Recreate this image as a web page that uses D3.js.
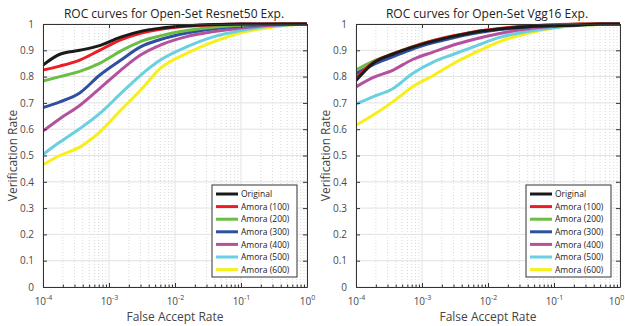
<!DOCTYPE html>
<html><head><meta charset="utf-8">
<script src="https://cdn.jsdelivr.net/npm/d3@7"></script>
<style>body{margin:0;background:#fff}svg{display:block}</style>
</head><body>
<svg id="c" width="625" height="326"></svg>
<script>
// ---- data ----
const far = [1e-4, 1.8e-4, 3.6e-4, 7.2e-4, 1.5e-3, 3e-3, 6e-3, 1.5e-2, 3.9e-2, 0.1, 0.25, 0.5, 1];
const seriesNames = ["Original", "Amora (100)", "Amora (200)", "Amora (300)", "Amora (400)", "Amora (500)", "Amora (600)"];
const seriesColors = ["#1a1a1a", "#ed1c24", "#6abd45", "#2f4f9f", "#b4519f", "#6acfe0", "#f7ee1a"];
const titles = ["ROC curves for Open-Set Resnet50 Exp.", "ROC curves for Open-Set Vgg16 Exp."];
const xLabel = "False Accept Rate";
const yLabel = "Verification Rate";
const xTicks = [1e-4, 1e-3, 1e-2, 1e-1, 1];
const yTicks = [0, 0.1, 0.2, 0.3, 0.4, 0.5, 0.6, 0.7, 0.8, 0.9, 1];

const resnetOriginal = [0.844, 0.885, 0.900, 0.918, 0.950, 0.972, 0.984, 0.993, 0.998, 1, 1, 1, 1];
const resnetAmora100 = [0.825, 0.840, 0.863, 0.900, 0.940, 0.965, 0.980, 0.991, 0.997, 1, 1, 1, 1];
const resnetAmora200 = [0.783, 0.800, 0.820, 0.850, 0.897, 0.933, 0.955, 0.975, 0.988, 0.995, 0.999, 1, 1];
const resnetAmora300 = [0.682, 0.704, 0.738, 0.805, 0.862, 0.913, 0.941, 0.966, 0.982, 0.992, 0.998, 1, 1];
const resnetAmora400 = [0.593, 0.640, 0.690, 0.754, 0.824, 0.882, 0.920, 0.952, 0.971, 0.985, 0.994, 0.998, 1];
const resnetAmora500 = [0.504, 0.551, 0.602, 0.659, 0.735, 0.805, 0.863, 0.913, 0.952, 0.975, 0.990, 0.996, 1];
const resnetAmora600 = [0.465, 0.500, 0.532, 0.589, 0.672, 0.748, 0.831, 0.888, 0.933, 0.967, 0.985, 0.995, 1];

const vggOriginal = [0.785, 0.850, 0.885, 0.912, 0.935, 0.953, 0.968, 0.981, 0.990, 0.993, 0.996, 1, 1];
const vggAmora100 = [0.795, 0.853, 0.886, 0.913, 0.937, 0.955, 0.970, 0.983, 0.992, 0.997, 1, 1, 1];
const vggAmora200 = [0.825, 0.858, 0.887, 0.914, 0.937, 0.954, 0.969, 0.982, 0.991, 0.996, 1, 1, 1];
const vggAmora300 = [0.812, 0.845, 0.875, 0.905, 0.929, 0.948, 0.964, 0.979, 0.989, 0.995, 0.999, 1, 1];
const vggAmora400 = [0.761, 0.796, 0.824, 0.865, 0.894, 0.920, 0.941, 0.964, 0.981, 0.991, 0.997, 1, 1];
const vggAmora500 = [0.695, 0.723, 0.754, 0.812, 0.856, 0.885, 0.913, 0.949, 0.971, 0.986, 0.995, 0.999, 1];
const vggAmora600 = [0.615, 0.653, 0.704, 0.761, 0.805, 0.850, 0.888, 0.933, 0.964, 0.985, 0.995, 0.998, 1];

const panels = [
  [resnetOriginal, resnetAmora100, resnetAmora200, resnetAmora300, resnetAmora400, resnetAmora500, resnetAmora600],
  [vggOriginal, vggAmora100, vggAmora200, vggAmora300, vggAmora400, vggAmora500, vggAmora600]
];

// ---- layout ----
const font = "'Open Sans', 'Noto Sans', sans-serif";
const svg = d3.select("#c");
const frames = [{x0: 43, x1: 307}, {x0: 356, x1: 620}];
const yTop = 24, yBot = 287;

const minorTicks = [];
for (let e = -4; e < 0; e++) for (let m = 2; m <= 9; m++) minorTicks.push(m * Math.pow(10, e));

panels.forEach((data, pi) => {
  const f = frames[pi];
  const x = d3.scaleLog().domain([1e-4, 1]).range([f.x0, f.x1]);
  const y = d3.scaleLinear().domain([0, 1]).range([yBot, yTop]);
  const g = svg.append("g");

  // grid
  g.append("g").selectAll("line").data(minorTicks).join("line")
    .attr("x1", d => x(d)).attr("x2", d => x(d)).attr("y1", yTop).attr("y2", yBot)
    .attr("stroke", "#cfcfcf").attr("stroke-width", 0.8).attr("stroke-dasharray", "1,2");
  g.append("g").selectAll("line").data(xTicks).join("line")
    .attr("x1", d => x(d)).attr("x2", d => x(d)).attr("y1", yTop).attr("y2", yBot)
    .attr("stroke", "#e2e2e2").attr("stroke-width", 1);
  g.append("g").selectAll("line").data(yTicks).join("line")
    .attr("x1", f.x0).attr("x2", f.x1).attr("y1", d => y(d)).attr("y2", d => y(d))
    .attr("stroke", "#e2e2e2").attr("stroke-width", 1);

  // curves
  const line = d3.line().x((d, i) => x(far[i])).y(d => y(d)).curve(d3.curveMonotoneX);
  const clipId = "clip" + pi;
  svg.append("clipPath").attr("id", clipId).append("rect")
    .attr("x", f.x0).attr("y", yTop - 2).attr("width", f.x1 - f.x0).attr("height", yBot - yTop + 2);
  g.append("g").attr("clip-path", `url(#${clipId})`).selectAll("path").data(data.slice().reverse()).join("path")
    .attr("d", d => line(d)).attr("fill", "none")
    .attr("stroke", (d, i) => seriesColors[data.length - 1 - i]).attr("stroke-width", 3)
    .attr("stroke-linejoin", "round");

  // axes
  const ax = d3.axisBottom(x).tickValues(xTicks).tickSizeInner(-4).tickSizeOuter(0).tickPadding(10).tickFormat(() => "");
  const axG = g.append("g").attr("transform", `translate(0,${yBot})`).call(ax);
  axG.select(".domain").attr("stroke", "#333");
  axG.selectAll(".tick line").attr("stroke", "#333");
  axG.selectAll(".tick text").remove();
  axG.selectAll(".tick").append("text")
    .attr("y", 18).attr("x", d => (pi === 1 && d === 1) ? -4 : 0)
    .attr("fill", "#4a4a4a").attr("font-family", font).attr("font-size", 10).attr("text-anchor", "middle")
    .each(function(d) {
      const t = d3.select(this);
      t.append("tspan").text("10");
      t.append("tspan").attr("dy", -5).attr("font-size", 7).text(String(Math.round(Math.log10(d))));
    });
  const axMinor = d3.axisBottom(x).tickValues(minorTicks).tickSizeInner(-2.5).tickSizeOuter(0).tickFormat(() => "");
  const mG = g.append("g").attr("transform", `translate(0,${yBot})`).call(axMinor);
  mG.select(".domain").remove();
  mG.selectAll(".tick line").attr("stroke", "#333");
  const axTop = d3.axisTop(x).tickValues(xTicks).tickSizeInner(-4).tickSizeOuter(0).tickFormat(() => "");
  const tG = g.append("g").attr("transform", `translate(0,${yTop})`).call(axTop);
  tG.select(".domain").attr("stroke", "#333");
  tG.selectAll(".tick line").attr("stroke", "#333");

  const ay = d3.axisLeft(y).tickValues(yTicks).tickSizeInner(-4).tickSizeOuter(0).tickPadding(9).tickFormat(d => String(d));
  const ayG = g.append("g").attr("transform", `translate(${f.x0},0)`).call(ay);
  ayG.select(".domain").attr("stroke", "#333");
  ayG.selectAll(".tick line").attr("stroke", "#333");
  ayG.selectAll(".tick text").attr("fill", "#4a4a4a").attr("font-family", font).attr("font-size", 10);
  const ayR = d3.axisRight(y).tickValues(yTicks).tickSizeInner(-4).tickSizeOuter(0).tickFormat(() => "");
  const arG = g.append("g").attr("transform", `translate(${f.x1},0)`).call(ayR);
  arG.select(".domain").attr("stroke", "#333");
  arG.selectAll(".tick line").attr("stroke", "#333");

  const cx = (f.x0 + f.x1) / 2;
  g.append("text").attr("x", cx - 1).attr("y", 18).attr("text-anchor", "middle")
    .attr("font-family", font).attr("font-size", 12).attr("fill", "#222").text(titles[pi]);
  g.append("text").attr("x", cx).attr("y", 321).attr("text-anchor", "middle")
    .attr("font-family", font).attr("font-size", 12).attr("fill", "#444").text(xLabel);
  g.append("text").attr("transform", `translate(${f.x0 - 26},${(yTop + yBot) / 2}) rotate(-90)`).attr("text-anchor", "middle")
    .attr("font-family", font).attr("font-size", 12).attr("fill", "#444").text(yLabel);

  // legend
  const lx = f.x1 - 95 + (pi === 0 ? 0 : 1), ly = 185;
  const lg = g.append("g").attr("transform", `translate(${lx},${ly})`);
  lg.append("rect").attr("width", 85).attr("height", 92).attr("fill", "#fff").attr("stroke", "#333").attr("stroke-width", 1);
  seriesNames.forEach((n, i) => {
    const yy = 9 + i * 12.6;
    lg.append("line").attr("x1", 4).attr("x2", 26).attr("y1", yy).attr("y2", yy)
      .attr("stroke", seriesColors[i]).attr("stroke-width", 3);
    lg.append("text").attr("x", 29).attr("y", yy + 3.2).attr("font-family", font).attr("font-size", 8.5)
      .attr("fill", "#222").text(n);
  });
});
</script>
</body></html>
